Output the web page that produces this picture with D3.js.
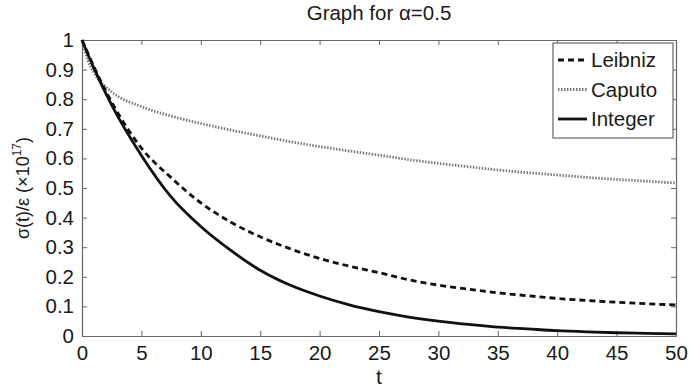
<!DOCTYPE html>
<html>
<head>
<meta charset="utf-8">
<script src="https://cdn.jsdelivr.net/npm/d3@7"></script>
<style>
  body { margin: 0; background: #fff; }
  text { font-family: "Liberation Sans", Arial, sans-serif; fill: #1a1a1a; }
</style>
</head>
<body>
<script>
// values
var tValues   = [0, 0.5, 1, 2.5, 5, 7.5, 10, 12.5, 15, 17.5, 20, 22.5, 25, 27.5, 30, 32.5, 35, 37.5, 40, 42.5, 45, 47.5, 50];
var leibniz   = [1, 0.955, 0.91, 0.79, 0.635, 0.535, 0.45, 0.385, 0.335, 0.295, 0.262, 0.236, 0.214, 0.19, 0.172, 0.158, 0.146, 0.136, 0.127, 0.12, 0.114, 0.109, 0.105];
var caputo    = [1, 0.93, 0.89, 0.825, 0.775, 0.743, 0.718, 0.696, 0.676, 0.657, 0.64, 0.625, 0.611, 0.596, 0.583, 0.572, 0.561, 0.552, 0.544, 0.536, 0.529, 0.523, 0.517];
var integer   = [1, 0.951, 0.905, 0.78, 0.61, 0.47, 0.37, 0.29, 0.222, 0.172, 0.135, 0.105, 0.082, 0.064, 0.05, 0.039, 0.03, 0.024, 0.018, 0.014, 0.011, 0.009, 0.007];
var xTicks = [0, 5, 10, 15, 20, 25, 30, 35, 40, 45, 50];
var yTicks = [0, 0.1, 0.2, 0.3, 0.4, 0.5, 0.6, 0.7, 0.8, 0.9, 1];
var seriesNames = ['Leibniz', 'Caputo', 'Integer'];

var margin = { top: 40, right: 13, bottom: 52, left: 82 };
var totalWidth = 689, totalHeight = 388;
var graphWidth = totalWidth - margin.left - margin.right;
var graphHeight = totalHeight - margin.top - margin.bottom;
var axisColor = '#666';

var svg = d3.select('body')
  .append('svg')
  .attr('width', totalWidth)
  .attr('height', totalHeight);

var mainGroup = svg.append('g')
  .attr('transform', 'translate(' + margin.left + ',' + margin.top + ')');

var xScale = d3.scaleLinear().domain([0, 50]).range([0, graphWidth]);
var yScale = d3.scaleLinear().domain([0, 1]).range([graphHeight, 0]);

// axes with inward ticks (box style)
var bottomAxis = mainGroup.append('g')
  .attr('transform', 'translate(0,' + graphHeight + ')')
  .call(d3.axisBottom(xScale).tickValues(xTicks).tickSizeInner(-5).tickSizeOuter(0).tickPadding(9));
var leftAxis = mainGroup.append('g')
  .call(d3.axisLeft(yScale).tickValues(yTicks).tickSizeInner(-5).tickSizeOuter(0).tickPadding(8)
    .tickFormat(function(d) { return d === 0 || d === 1 ? d3.format('d')(d) : d3.format('.1f')(d); }));
var topAxis = mainGroup.append('g')
  .call(d3.axisTop(xScale).tickValues(xTicks).tickSizeInner(-5).tickSizeOuter(0).tickFormat(''));
var rightAxis = mainGroup.append('g')
  .attr('transform', 'translate(' + graphWidth + ',0)')
  .call(d3.axisRight(yScale).tickValues(yTicks).tickSizeInner(-5).tickSizeOuter(0).tickFormat(''));

[bottomAxis, leftAxis, topAxis, rightAxis].forEach(function(a) {
  a.selectAll('.domain').attr('stroke', axisColor).attr('stroke-width', 1.2);
  a.selectAll('.tick line').attr('stroke', axisColor).attr('stroke-width', 1);
  a.selectAll('.tick text').style('font-size', '20.5px').attr('fill', '#1a1a1a')
    .style('font-family', '"Liberation Sans", Arial, sans-serif');
});

// curves
var styles = {
  Leibniz: { values: leibniz, stroke: '#111', width: 2.8, dash: '6,4' },
  Caputo:  { values: caputo,  stroke: '#7a7a7a', width: 2.8, dash: '1.5,1.5' },
  Integer: { values: integer, stroke: '#111', width: 2.8, dash: null }
};

var line = d3.line()
  .x(function(d) { return xScale(d[0]); })
  .y(function(d) { return yScale(d[1]); })
  .curve(d3.curveMonotoneX);

['Caputo', 'Leibniz', 'Integer'].forEach(function(name) {
  var s = styles[name];
  mainGroup.append('path')
    .datum(tValues.map(function(t, i) { return [t, s.values[i]]; }))
    .attr('fill', 'none')
    .attr('stroke', s.stroke)
    .attr('stroke-width', s.width)
    .attr('stroke-dasharray', s.dash)
    .attr('d', line);
});

// title and axis labels
svg.append('text')
  .attr('x', margin.left + graphWidth / 2)
  .attr('y', 20)
  .attr('text-anchor', 'middle')
  .style('font-size', '20.5px')
  .text('Graph for \u03B1=0.5');

svg.append('text')
  .attr('x', margin.left + graphWidth / 2)
  .attr('y', 384)
  .attr('text-anchor', 'middle')
  .style('font-size', '21px')
  .text('t');

var yLabel = svg.append('text')
  .attr('transform', 'translate(29,' + (margin.top + graphHeight / 2) + ') rotate(-90)')
  .attr('text-anchor', 'middle')
  .style('font-size', '18px');
yLabel.append('tspan').text('\u03C3(t)/\u03B5 (\u00D710');
yLabel.append('tspan').attr('dy', -8).style('font-size', '12px').text('17');
yLabel.append('tspan').attr('dy', 8).text(')');

// legend
var legend = svg.append('g').attr('transform', 'translate(553,43)');
legend.append('rect')
  .attr('width', 120).attr('height', 95)
  .attr('fill', '#fff').attr('stroke', axisColor).attr('stroke-width', 1.2);

var legendRows = legend.selectAll('g.row')
  .data(seriesNames)
  .enter()
  .append('g')
  .attr('class', 'row')
  .attr('transform', function(d, i) { return 'translate(0,' + (17 + i * 29.5) + ')'; });

legendRows.append('line')
  .attr('x1', 5).attr('x2', 34)
  .attr('stroke', function(d) { return styles[d].stroke; })
  .attr('stroke-width', function(d) { return styles[d].width; })
  .attr('stroke-dasharray', function(d) { return styles[d].dash; });

legendRows.append('text')
  .attr('x', 38)
  .attr('dy', '0.36em')
  .style('font-size', '20.5px')
  .text(function(d) { return d; });
</script>
</body>
</html>
